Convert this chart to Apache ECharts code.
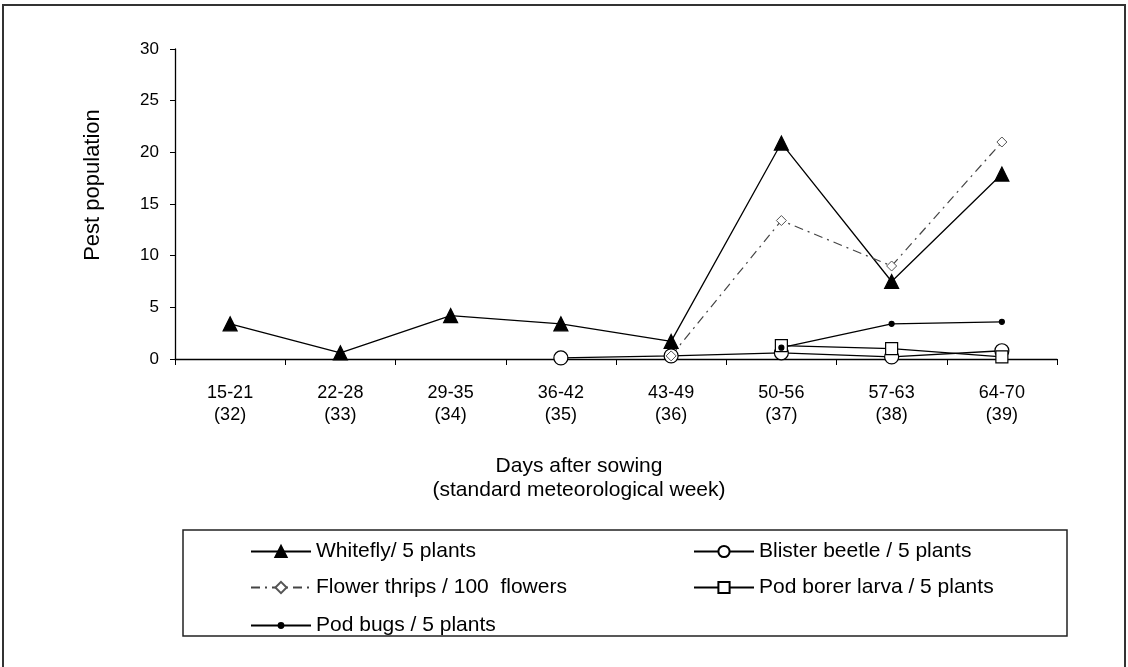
<!doctype html>
<html lang="en">
<head>
    <meta charset="UTF-8">
    <title>Pest population</title>
    <script src="https://cdn.jsdelivr.net/npm/echarts@6/dist/echarts.min.js"></script>
    <style>
        html, body { margin: 0; padding: 0; background: #fff; }
        #chart { width: 1128px; height: 667px; }
    </style>
</head>
<body>
<div id="chart"></div>
<script>
    // data
    var weeks = ['15-21\n(32)', '22-28\n(33)', '29-35\n(34)', '36-42\n(35)', '43-49\n(36)', '50-56\n(37)', '57-63\n(38)', '64-70\n(39)'];
    var whitefly = [3.4, 0.6, 4.2, 3.4, 1.7, 20.9, 7.5, 17.9];
    var thrips = [null, null, null, null, 0.3, 13.4, 9.0, 21.0];
    var blister = [null, null, null, 0.1, 0.3, 0.6, 0.2, 0.8];
    var podBorer = [null, null, null, null, null, 1.3, 1.0, 0.2];
    var podBugs = [null, null, null, null, null, 1.1, 3.4, 3.6];
    var yTicks = [0, 30, 5];

    var font = 'Liberation Sans, Arial, sans-serif';
    var chart = echarts.init(document.getElementById('chart'));

    function line(name, data, symbol, size, fill, extra) {
        var s = {
            name: name,
            type: 'line',
            data: data,
            symbol: symbol,
            symbolSize: size,
            showAllSymbol: true,
            connectNulls: false,
            animation: false,
            lineStyle: { color: '#000', width: 1.3 },
            itemStyle: { color: fill, borderColor: '#000', borderWidth: 1.2 }
        };
        return Object.assign(s, extra || {});
    }

    var legendText = { fontFamily: font, fontSize: 21, color: '#000' };

    var option = {
        backgroundColor: '#fff',
        animation: false,
        grid: { left: 175, right: 71, top: 49, bottom: 308 },
        xAxis: {
            type: 'category',
            data: weeks,
            boundaryGap: true,
            axisLine: { lineStyle: { color: '#000', width: 1.3 } },
            axisTick: { show: true, length: 6, lineStyle: { color: '#000' } },
            axisLabel: { fontFamily: font, fontSize: 18, color: '#000', lineHeight: 22, margin: 23, interval: 0 }
        },
        yAxis: {
            type: 'value',
            min: yTicks[0],
            max: yTicks[1],
            interval: yTicks[2],
            splitLine: { show: false },
            axisLine: { show: true, lineStyle: { color: '#000', width: 1.3 } },
            axisTick: { show: true, length: 5, lineStyle: { color: '#000' } },
            axisLabel: { fontFamily: font, fontSize: 17, color: '#000', margin: 16 }
        },
        legend: [{
            orient: 'vertical',
            left: 245,
            top: 536,
            itemWidth: 60,
            itemHeight: 14,
            itemGap: 15,
            data: ['Whitefly/ 5 plants', 'Flower thrips / 100  flowers'],
            textStyle: legendText
        }, {
            orient: 'vertical',
            left: 245,
            top: 610,
            itemWidth: 60,
            itemHeight: 6,
            data: ['Pod bugs / 5 plants'],
            textStyle: legendText
        }, {
            orient: 'vertical',
            left: 688,
            top: 536,
            itemWidth: 60,
            itemHeight: 14,
            itemGap: 15,
            data: ['Blister beetle / 5 plants', 'Pod borer larva / 5 plants'],
            textStyle: legendText
        }],
        graphic: [{
            type: 'rect',
            shape: { x: 3, y: 5, width: 1122, height: 700 },
            style: { fill: 'none', stroke: '#333', lineWidth: 2 }
        }, {
            type: 'rect',
            shape: { x: 183, y: 530, width: 884, height: 106 },
            style: { fill: 'none', stroke: '#222', lineWidth: 1.5 }
        }, {
            // y axis title
            type: 'text',
            x: 93,
            y: 185,
            rotation: Math.PI / 2,
            style: {
                text: 'Pest population',
                font: '22px ' + font,
                fill: '#000',
                align: 'center',
                verticalAlign: 'middle'
            }
        }, {
            // x axis title
            type: 'text',
            x: 579,
            y: 478,
            style: {
                text: 'Days after sowing\n(standard meteorological week)',
                font: '21px ' + font,
                lineHeight: 24,
                fill: '#000',
                align: 'center',
                verticalAlign: 'middle'
            }
        }],
        series: [
            line('Whitefly/ 5 plants', whitefly, 'triangle', 14, '#000'),
            line('Blister beetle / 5 plants', blister, 'circle', 14, '#fff'),
            line('Flower thrips / 100  flowers', thrips, 'diamond', 10, '#fff', {
                lineStyle: { color: '#444', width: 1.2, type: [9, 5, 2, 5] },
                itemStyle: { color: '#fff', borderColor: '#555', borderWidth: 1 }
            }),
            line('Pod borer larva / 5 plants', podBorer, 'rect', 12, '#fff'),
            line('Pod bugs / 5 plants', podBugs, 'circle', 5, '#000')
        ]
    };
    chart.setOption(option);
</script>
</body>
</html>
